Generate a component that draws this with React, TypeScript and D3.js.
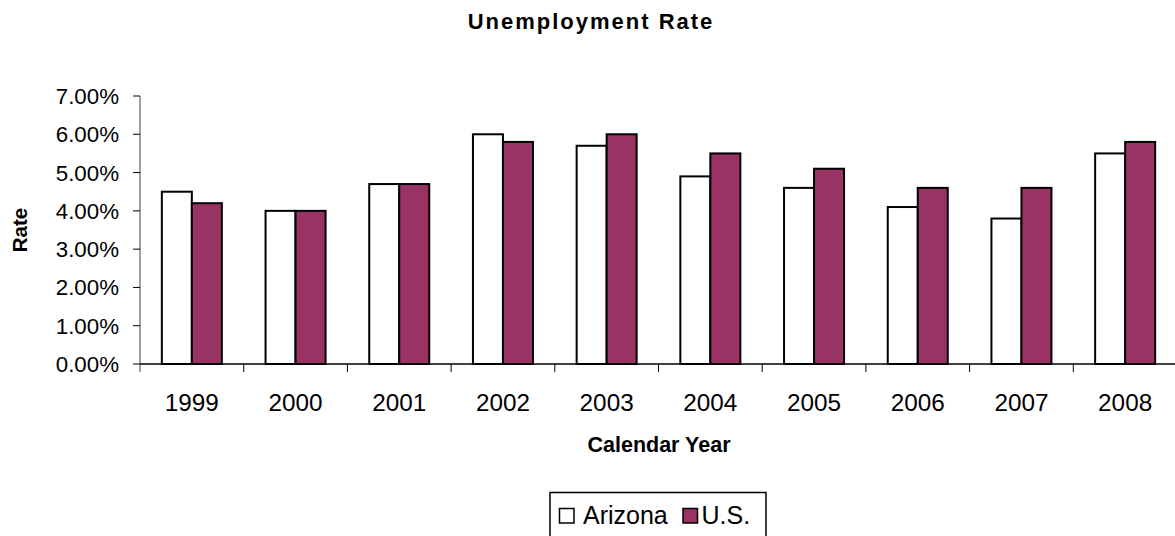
import * as d3 from "d3";

const years = ["1999", "2000", "2001", "2002", "2003", "2004", "2005", "2006", "2007", "2008"];
const series = ["Arizona", "U.S."];
const arizona = [4.5, 4.0, 4.7, 6.0, 5.7, 4.9, 4.6, 4.1, 3.8, 5.5];
const us = [4.2, 4.0, 4.7, 5.8, 6.0, 5.5, 5.1, 4.6, 4.6, 5.8];
const yTicks = [0, 1, 2, 3, 4, 5, 6, 7];
const colors = ["#ffffff", "#993366"];

export default function App() {
  const width = 1175;
  const height = 536;
  const left = 140;
  const right = 1177;
  const top = 96;
  const bottom = 364;
  const font = "Liberation Sans, Arial, sans-serif";

  const x = d3.scaleBand().domain(years).range([left, right]).padding(0);
  const x1 = d3
    .scaleBand()
    .domain(series)
    .range([0, x.bandwidth()])
    .paddingInner(0)
    .paddingOuter(0.728);
  const y = d3.scaleLinear().domain([0, 7]).range([bottom, top]);
  const fmt = (v: number) => d3.format(".2%")(v / 100);

  const values = [arizona, us];

  return (
    <svg
      width={width}
      height={height}
      style={{ position: "absolute", left: 0, top: 0, background: "#fff" }}
      fontFamily={font}
    >
      {/* title */}
      <text
        x={591}
        y={29}
        textAnchor="middle"
        fontSize={22}
        fontWeight="bold"
        letterSpacing={2}
      >
        Unemployment Rate
      </text>

      {/* bars */}
      {years.map((yr, i) => (
        <g key={yr}>
          {series.map((s, j) => {
            const v = values[j][i];
            const bx = x(yr)! + x1(s)!;
            return (
              <rect
                key={s}
                x={bx}
                y={y(v)}
                width={x1.bandwidth()}
                height={bottom - y(v)}
                fill={colors[j]}
                stroke="#000"
                strokeWidth={2}
              />
            );
          })}
        </g>
      ))}

      {/* y axis */}
      <line x1={left} x2={left} y1={top} y2={bottom + 8} stroke="#808080" strokeWidth={1.5} />
      {yTicks.map((t) => (
        <g key={t}>
          <line x1={left - 7} x2={left} y1={y(t)} y2={y(t)} stroke="#000" strokeWidth={1} />
          <text
            x={119}
            y={y(t)}
            dy="0.36em"
            textAnchor="end"
            fontSize={22.3}
          >
            {fmt(t)}
          </text>
        </g>
      ))}

      {/* x axis */}
      <line x1={left} x2={right} y1={bottom} y2={bottom} stroke="#000" strokeWidth={1.5} />
      {years.map((yr, i) => (
        <g key={yr}>
          {i > 0 && (
            <line
              x1={x(yr)!}
              x2={x(yr)!}
              y1={bottom}
              y2={bottom + 8}
              stroke="#000"
              strokeWidth={1}
            />
          )}
          <text
            x={x(yr)! + x.bandwidth() / 2}
            y={411}
            textAnchor="middle"
            fontSize={24.3}
          >
            {yr}
          </text>
        </g>
      ))}

      {/* axis titles */}
      <text x={659} y={452} textAnchor="middle" fontSize={21.5} fontWeight="bold">
        Calendar Year
      </text>
      <text
        transform="translate(26.5,230) rotate(-90)"
        textAnchor="middle"
        fontSize={20.5}
        fontWeight="bold"
      >
        Rate
      </text>

      {/* legend */}
      <rect x={550} y={492.5} width={216} height={60} fill="#fff" stroke="#000" strokeWidth={1.5} />
      <rect x={559.5} y={508.5} width={14.5} height={14.5} fill={colors[0]} stroke="#000" strokeWidth={1.5} />
      <text x={583} y={524} fontSize={25}>
        {series[0]}
      </text>
      <rect x={683} y={508.5} width={14.5} height={14.5} fill={colors[1]} stroke="#000" strokeWidth={1.5} />
      <text x={701.5} y={524} fontSize={25}>
        {series[1]}
      </text>
    </svg>
  );
}
